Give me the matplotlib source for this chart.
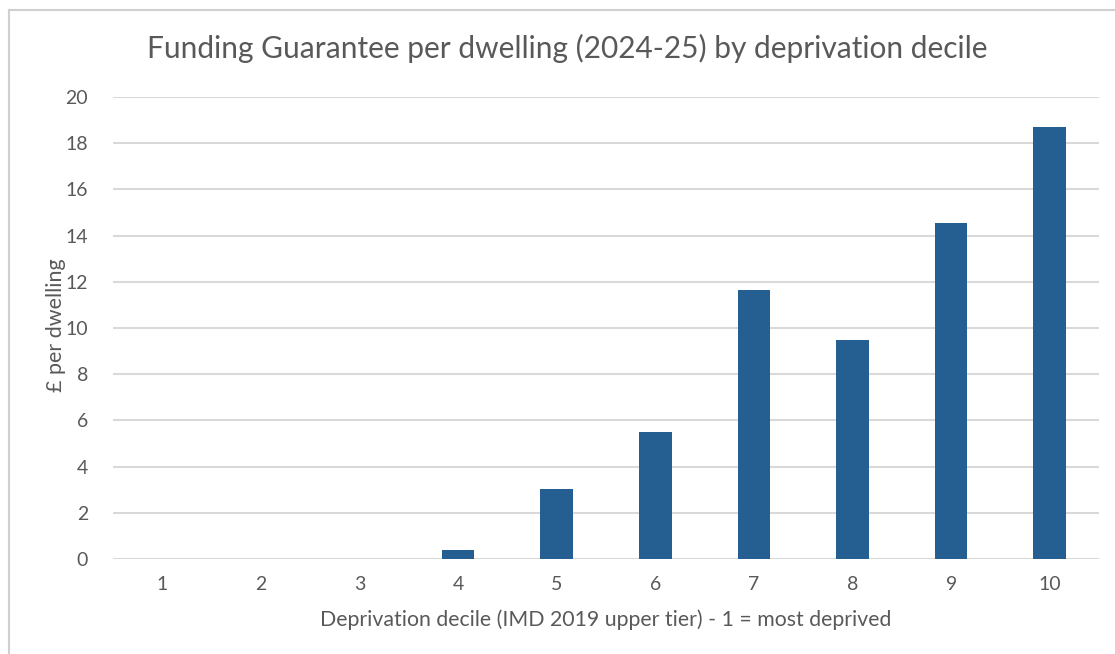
import matplotlib
matplotlib.use("Agg")
import matplotlib.pyplot as plt
from matplotlib.lines import Line2D

deciles = ["1", "2", "3", "4", "5", "6", "7", "8", "9", "10"]
values = [0, 0, 0, 0.39, 3.03, 5.5, 11.65, 9.48, 14.53, 18.72]
yticks = [0, 2, 4, 6, 8, 10, 12, 14, 16, 18, 20]

title = "Funding Guarantee per dwelling (2024-25) by deprivation decile"
xlabel = "Deprivation decile (IMD 2019 upper tier) - 1 = most deprived"
ylabel = "£ per dwelling"

plt.rcParams['font.family'] = ['Lato', 'DejaVu Sans']
text_color = "#595959"
grid_color = "#D9D9D9"
bar_color = "#255E91"

fig = plt.figure(figsize=(11.15, 6.54), dpi=100)
ax = fig.add_axes([0.1013, 0.1453, 0.8844, 0.7064])

x = list(range(len(deciles)))
ax.bar(x, values, width=0.33, color=bar_color, zorder=3)
ax.set_xlim(-0.5, len(deciles) - 0.5)
ax.set_ylim(0, 20)
ax.set_yticks(yticks)
ax.set_xticks(x)
ax.set_xticklabels(deciles)
ax.yaxis.grid(True, color=grid_color, linewidth=1.5, zorder=0)
ax.set_axisbelow(True)
for s in ax.spines.values():
    s.set_visible(False)
ax.tick_params(axis='both', length=0, colors=text_color, labelsize=14)
ax.tick_params(axis='x', pad=12)
ax.tick_params(axis='y', pad=18)

fig.text(0.509, 0.926, title, ha='center', va='center', fontsize=21.5, color=text_color)
fig.text(0.543, 0.052, xlabel, ha='center', va='center', fontsize=15.3, color=text_color)
fig.text(0.050, 0.503, ylabel, ha='center', va='center', rotation=90, fontsize=15.5, color=text_color)

# chart border (top and left edges visible)
fig.add_artist(Line2D([0.0085, 1.0], [0.984, 0.984], color="#D0D0D0", linewidth=1.5, transform=fig.transFigure))
fig.add_artist(Line2D([0.0085, 0.0085], [0.0, 0.984], color="#D0D0D0", linewidth=1.5, transform=fig.transFigure))

fig.savefig("out.png", dpi=100)
